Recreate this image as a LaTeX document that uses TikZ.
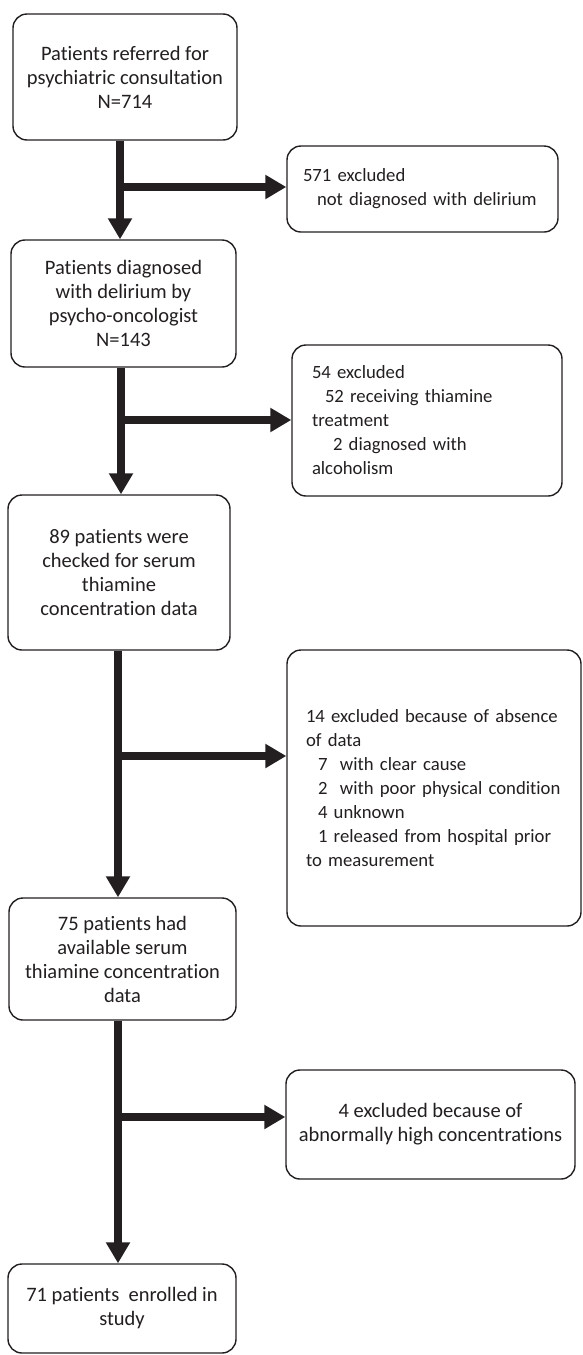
\documentclass[tikz,border=0pt]{standalone}
\usepackage{fontspec}
\setmainfont{Carlito}[Ligatures=NoCommon]
\usetikzlibrary{arrows.meta}
\definecolor{ink}{HTML}{231F20}
\newcommand{\oneline}[1]{\mbox{#1}}
\begin{document}
\begin{tikzpicture}[x=1pt,y=-1pt,
  box/.style={draw=ink,line width=1.4pt,rounded corners=14pt,text=ink,
    font=\fontsize{20.5}{24}\selectfont,inner ysep=2pt},
  cbox/.style={box,align=center},
  lbox/.style={box,align=left,font=\fontsize{18.7}{24}\selectfont},
  flowarrow/.style={draw=ink,line width=7.5pt,-{Triangle[length=21pt,width=23pt]}}]
\useasboundingbox[fill=white] (0,0) rectangle (582,1355);

\node[cbox,minimum width=224pt,minimum height=126pt] (A) at (125,77)
  {Patients referred for\\psychiatric consultation\\N=714};
\node[lbox,minimum height=86pt,inner xsep=16pt,text width=239pt] (B) at (422.5,189)
  {\oneline{571 excluded}\\\oneline{\hspace*{14pt}not diagnosed with delirium}};
\node[cbox,minimum width=225pt,minimum height=127pt] (C) at (123.5,303.5)
  {Patients diagnosed\\with delirium by\\psycho-oncologist\\N=143};
\node[lbox,minimum height=151pt,inner xsep=20pt,text width=230pt] (D) at (427,420.5)
  {\oneline{54 excluded}\\\oneline{\hspace*{13pt}52 receiving thiamine}\\\oneline{treatment}\\\oneline{\hspace*{21pt}2 diagnosed with}\\\oneline{alcoholism}};
\node[cbox,minimum width=222pt,minimum height=155pt] (E) at (119,572.5)
  {89 patients were\\checked for serum\\thiamine\\concentration data};
\node[lbox,minimum height=276pt,inner xsep=19pt,text width=256pt] (F) at (434,788)
  {\oneline{14 excluded because of absence}\\\oneline{of data}\\\oneline{\hspace*{12pt}7\ \ with clear cause}\\\oneline{\hspace*{12pt}2\ \ with poor physical condition}\\\oneline{\hspace*{12pt}4 unknown}\\\oneline{\hspace*{12pt}1 released from hospital prior}\\\oneline{to measurement}};
\node[cbox,minimum width=227pt,minimum height=122pt] (G) at (122.5,959)
  {75 patients had\\available serum\\thiamine concentration\\data};
\node[cbox,minimum width=289pt,minimum height=109pt] (H) at (430.5,1124.5)
  {4 excluded because of\\abnormally high concentrations};
\node[cbox,minimum width=228pt,minimum height=89pt] (I) at (122,1308.5)
  {71 patients\ \ enrolled in\\study};

\coordinate (v1) at (120,0);
\coordinate (v2) at (121,0);
\coordinate (v3) at (118,0);
\coordinate (v4) at (118,0);
\coordinate (j1) at (120,187);
\coordinate (j2) at (121,420);
\coordinate (j3) at (118,756);
\coordinate (j4) at (118,1117);

\draw[flowarrow] (A.south -| v1) -- (C.north -| v1);
\draw[flowarrow] (j1) -- (j1 -| B.west);
\draw[flowarrow] (C.south -| v2) -- (E.north -| v2);
\draw[flowarrow] (j2) -- (j2 -| D.west);
\draw[flowarrow] (E.south -| v3) -- (G.north -| v3);
\draw[flowarrow] (j3) -- (j3 -| F.west);
\draw[flowarrow] (G.south -| v4) -- (I.north -| v4);
\draw[flowarrow] (j4) -- (j4 -| H.west);
\end{tikzpicture}
\end{document}
